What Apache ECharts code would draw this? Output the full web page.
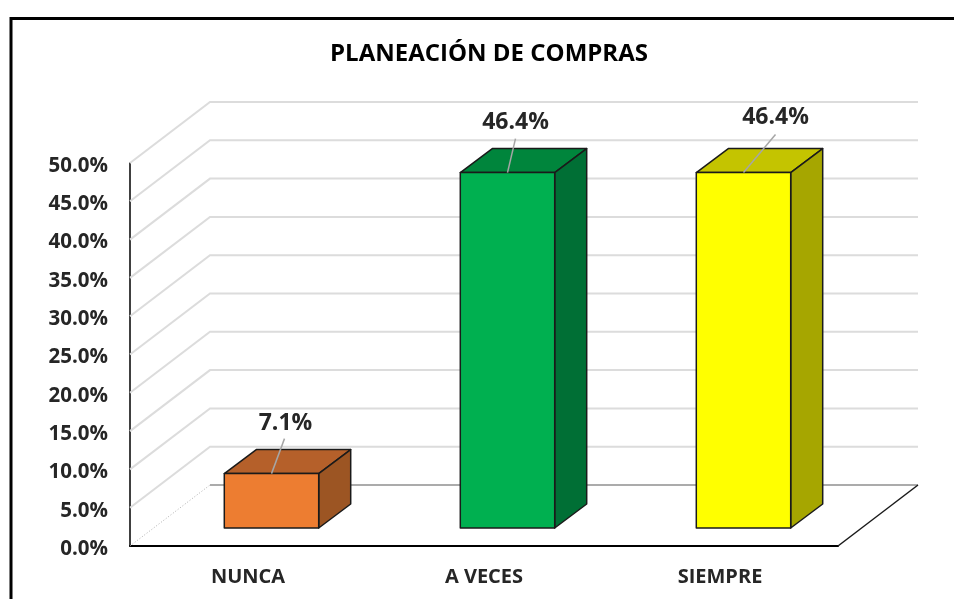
<!DOCTYPE html>
<html>
<head>
<meta charset="utf-8">
<title>PLANEACIÓN DE COMPRAS</title>
<script src="https://cdn.jsdelivr.net/npm/echarts@6/dist/echarts.min.js"></script>
<style>
  html, body { margin: 0; padding: 0; background: #fff; }
  #myEChart { width: 954px; height: 599px; }
</style>
</head>
<body>
<div id="myEChart"></div>
<script>
// datos del grafico
const titleText = 'PLANEACIÓN DE COMPRAS';
const categories = ['NUNCA', 'A VECES', 'SIEMPRE'];
const percentValues = [7.1, 46.4, 46.4];
const axisTicks = [0, 5, 10, 15, 20, 25, 30, 35, 40, 45, 50];

// colores de cada cara de la barra
const frontColors = ['#ED7D31', '#00B050', '#FFFF00'];
const topColors = ['#B5602A', '#00853C', '#C4C400'];
const sideColors = ['#9C5523', '#006F35', '#A6A600'];

// profundidad del efecto 3D, en pixeles
const wallDepth = [80, -61];
const barDepth = [32, -24];
const barShift = [23.5, -18];
// desplazamiento de cada etiqueta respecto a la barra, y fin de su linea guia
const labelOffsets = [[14, -50], [8, -50], [32, -55]];
const leaderEnds = [[13, -35], [8, -34], [32, -38]];

const fontName = '"Open Sans", "Noto Sans", sans-serif';

function formatPercent(v) {
  return v.toFixed(1) + '%';
}

// lineas de pared lateral y fondo para cada marca del eje
function renderWall(params, api) {
  const value = api.value(0);
  const grid = params.coordSys;
  const y = api.coord([0, value])[1];
  const x0 = grid.x;
  const x1 = grid.x + wallDepth[0];
  const y1 = y + wallDepth[1];
  const x2 = x1 + grid.width;
  const children = [];
  if (value === 0) {
    children.push({
      type: 'line',
      shape: { x1: x0, y1: y, x2: x1, y2: y1 },
      style: { stroke: '#b0b0b0', lineWidth: 1, lineDash: [1, 2] }
    });
    children.push({
      type: 'line',
      shape: { x1: x1, y1: y1, x2: x2, y2: y1 },
      style: { stroke: '#ababab', lineWidth: 2 }
    });
    // borde derecho del piso
    children.push({
      type: 'line',
      shape: { x1: grid.x + grid.width, y1: y, x2: x2, y2: y1 },
      style: { stroke: '#1a1a1a', lineWidth: 1.5 }
    });
  } else {
    children.push({
      type: 'polyline',
      shape: { points: [[x0, y], [x1, y1], [x2, y1]] },
      style: { stroke: '#dcdcdc', fill: null, lineWidth: 2 }
    });
  }
  return { type: 'group', children: children };
}

function renderBar(params, api) {
  const i = api.value(0);
  const value = api.value(1);
  const top = api.coord([i, value]);
  const base = api.coord([i, 0]);
  const halfWidth = api.size([1, 0])[0] * 0.2;
  const left = top[0] + barShift[0] - halfWidth;
  const right = top[0] + barShift[0] + halfWidth;
  const yTop = top[1] + barShift[1];
  const yBase = base[1] + barShift[1];
  const dx = barDepth[0];
  const dy = barDepth[1];
  const edge = { stroke: '#1a1a1a', lineWidth: 1.5, lineJoin: 'round' };
  const mid = (left + right) / 2;
  return {
    type: 'group',
    children: [
      {
        type: 'polygon',
        shape: { points: [[left, yTop], [left + dx, yTop + dy], [right + dx, yTop + dy], [right, yTop]] },
        style: Object.assign({ fill: topColors[i] }, edge)
      },
      {
        type: 'polygon',
        shape: { points: [[right, yTop], [right + dx, yTop + dy], [right + dx, yBase + dy], [right, yBase]] },
        style: Object.assign({ fill: sideColors[i] }, edge)
      },
      {
        type: 'rect',
        shape: { x: left, y: yTop, width: right - left, height: yBase - yTop },
        style: Object.assign({ fill: frontColors[i] }, edge)
      },
      {
        type: 'line',
        shape: { x1: mid, y1: yTop, x2: mid + leaderEnds[i][0], y2: yTop + leaderEnds[i][1] },
        style: { stroke: '#a6a6a6', lineWidth: 1.5 }
      },
      {
        type: 'text',
        style: {
          x: mid + labelOffsets[i][0],
          y: yTop + labelOffsets[i][1],
          text: formatPercent(value),
          align: 'center',
          verticalAlign: 'middle',
          font: 'bold 23px ' + fontName,
          fill: '#262626'
        }
      }
    ]
  };
}

let myChart = echarts.init(document.getElementById('myEChart'));
let option = {
  animation: false,
  backgroundColor: '#fff',
  title: {
    text: titleText,
    left: 484,
    top: 37,
    textAlign: 'center',
    textStyle: { fontFamily: fontName, fontSize: 24, fontWeight: 'bold', color: '#000' }
  },
  // marco exterior, se corta en el borde derecho e inferior
  graphic: [
    {
      type: 'rect',
      silent: true,
      shape: { x: 11, y: 18.5, width: 1000, height: 700 },
      style: { fill: null, stroke: '#000', lineWidth: 3 }
    }
  ],
  grid: { left: 130, right: 116, top: 163, bottom: 53 },
  xAxis: {
    type: 'category',
    data: categories,
    axisTick: { show: false },
    axisLine: { lineStyle: { color: '#000', width: 2 } },
    axisLabel: {
      margin: 21,
      fontFamily: fontName,
      fontSize: 20,
      fontWeight: 'bold',
      color: '#262626'
    }
  },
  yAxis: {
    type: 'value',
    min: 0,
    max: 50,
    interval: 5,
    splitLine: { show: false },
    axisTick: { show: false },
    axisLine: { show: true, lineStyle: { color: '#000', width: 1.5 } },
    axisLabel: {
      margin: 22,
      verticalAlign: 'top',
      lineHeight: 6,
      fontFamily: fontName,
      fontSize: 20.5,
      fontWeight: 'bold',
      color: '#262626',
      formatter: function (v) { return formatPercent(v); }
    }
  },
  series: [
    {
      type: 'custom',
      name: 'paredes',
      renderItem: renderWall,
      clip: false,
      silent: true,
      z: 1,
      encode: { y: 0 },
      data: axisTicks.map(function (t) { return [t]; })
    },
    {
      type: 'custom',
      name: 'PLANEACIÓN DE COMPRAS',
      renderItem: renderBar,
      clip: false,
      z: 3,
      encode: { x: 0, y: 1 },
      data: percentValues.map(function (v, i) { return [i, v]; })
    }
  ]
};
myChart.setOption(option);
window.addEventListener('resize', function () {
  myChart.resize();
});
</script>
</body>
</html>
